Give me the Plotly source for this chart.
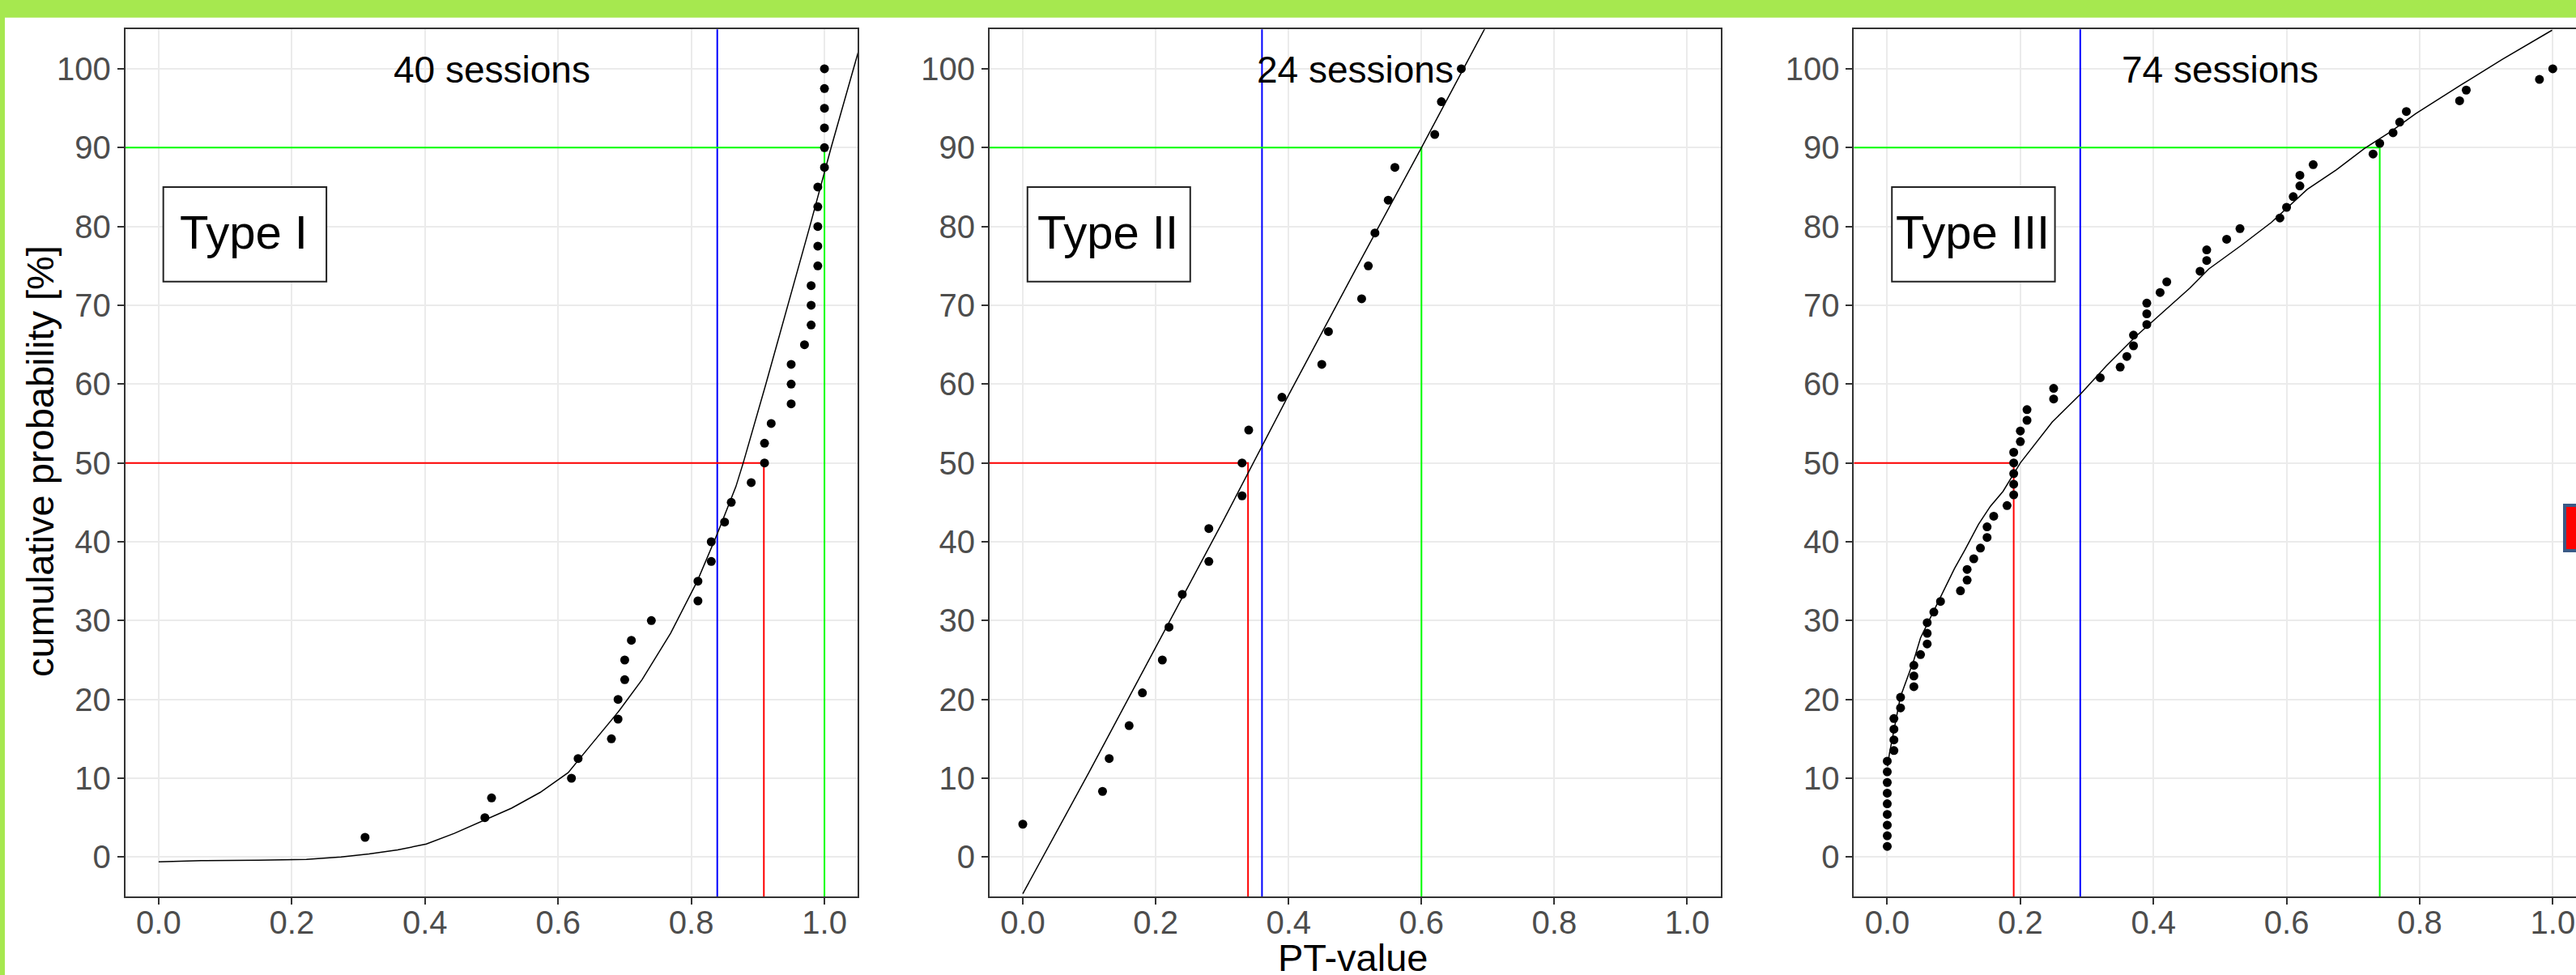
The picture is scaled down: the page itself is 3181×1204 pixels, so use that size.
import plotly.graph_objects as go

W, H = 3181, 1204

# ---------------- data ----------------
panel_labels = ["Type I", "Type II", "Type III"]
session_labels = ["40 sessions", "24 sessions", "74 sessions"]

t1_pt = [0.31, 0.49, 0.50, 0.62, 0.63, 0.68, 0.69, 0.69, 0.70, 0.70, 0.71, 0.74,
         0.81, 0.81, 0.83, 0.83, 0.85, 0.86, 0.89, 0.91, 0.91, 0.92, 0.95, 0.95,
         0.95, 0.97, 0.98, 0.98, 0.98, 0.99, 0.99, 0.99, 0.99, 0.99, 1.0, 1.0,
         1.0, 1.0, 1.0, 1.0]
t1_cum = [2.5, 5, 7.5, 10, 12.5, 15, 17.5, 20, 22.5, 25, 27.5, 30, 32.5, 35, 37.5,
          40, 42.5, 45, 47.5, 50, 52.5, 55, 57.5, 60, 62.5, 65, 67.5, 70, 72.5, 75,
          77.5, 80, 82.5, 85, 87.5, 90, 92.5, 95, 97.5, 100]

t2_pt = [0.0, 0.12, 0.13, 0.16, 0.18, 0.21, 0.22, 0.24, 0.28, 0.28, 0.33, 0.33,
         0.34, 0.39, 0.45, 0.46, 0.51, 0.52, 0.53, 0.55, 0.56, 0.62, 0.63, 0.66]
t2_cum = [4.17, 8.33, 12.5, 16.67, 20.83, 25.0, 29.17, 33.33, 37.5, 41.67, 45.83,
          50.0, 54.17, 58.33, 62.5, 66.67, 70.83, 75.0, 79.17, 83.33, 87.5, 91.67,
          95.83, 100.0]

t3_pt = [0.0, 0.0, 0.0, 0.0, 0.0, 0.0, 0.0, 0.0, 0.0, 0.01, 0.01, 0.01, 0.01,
         0.02, 0.02, 0.04, 0.04, 0.04, 0.05, 0.06, 0.06, 0.06, 0.07, 0.08, 0.11,
         0.12, 0.12, 0.13, 0.14, 0.15, 0.15, 0.16, 0.18, 0.19, 0.19, 0.19, 0.19,
         0.19, 0.20, 0.20, 0.21, 0.21, 0.25, 0.25, 0.32, 0.35, 0.36, 0.37, 0.37,
         0.39, 0.39, 0.39, 0.41, 0.42, 0.47, 0.48, 0.48, 0.51, 0.53, 0.59, 0.60,
         0.61, 0.62, 0.62, 0.64, 0.73, 0.74, 0.76, 0.77, 0.78, 0.86, 0.87, 0.98, 1.00]
t3_cum = [1.35, 2.70, 4.05, 5.41, 6.76, 8.11, 9.46, 10.81, 12.16, 13.51, 14.86,
          16.22, 17.57, 18.92, 20.27, 21.62, 22.97, 24.32, 25.68, 27.03, 28.38,
          29.73, 31.08, 32.43, 33.78, 35.14, 36.49, 37.84, 39.19, 40.54, 41.89,
          43.24, 44.59, 45.95, 47.30, 48.65, 50.00, 51.35, 52.70, 54.05, 55.41,
          56.76, 58.11, 59.46, 60.81, 62.16, 63.51, 64.86, 66.22, 67.57, 68.92,
          70.27, 71.62, 72.97, 74.32, 75.68, 77.03, 78.38, 79.73, 81.08, 82.43,
          83.78, 85.14, 86.49, 87.84, 89.19, 90.54, 91.89, 93.24, 94.59, 95.95,
          97.30, 98.65, 100.00]

# fitted curves
fit1_x = [0.0, 0.064, 0.15, 0.222, 0.274, 0.316, 0.359, 0.402, 0.444, 0.487, 0.53,
          0.573, 0.615, 0.65, 0.692, 0.726, 0.769, 0.809, 0.839, 0.867, 0.878,
          0.912, 0.945, 0.978, 1.01, 1.043, 1.052]
fit1_y = [-0.6, -0.45, -0.4, -0.3, 0.0, 0.4, 0.9, 1.65, 3.0, 4.6, 6.2, 8.2, 10.7,
          14.3, 18.6, 22.5, 28.4, 35.0, 41.0, 47.0, 50.0, 60.0, 70.0, 80.0, 90.0,
          100.0, 102.5]

fit2_x = [0.0, 0.1, 0.2, 0.3, 0.4, 0.5, 0.6, 0.696]
fit2_y = [-4.65, 10.8, 26.6, 42.4, 58.6, 74.4, 90.0, 105.2]

fit3_x = [0.0005, 0.0034, 0.0197, 0.040, 0.050, 0.081, 0.101, 0.117, 0.137, 0.155,
          0.174, 0.200, 0.248, 0.290, 0.329, 0.374, 0.410, 0.455, 0.483, 0.532,
          0.577, 0.631, 0.675, 0.717, 0.756, 0.794, 0.863, 0.924, 0.999]
fit3_y = [11.5, 13.2, 20.3, 25.0, 27.8, 33.2, 36.6, 39.0, 42.2, 44.5, 46.4, 50.0,
          55.2, 58.7, 62.3, 66.1, 68.8, 72.2, 74.6, 77.6, 80.5, 84.7, 87.2, 89.9,
          92.0, 94.3, 98.0, 101.2, 104.9]

# reference quantiles
q50 = [0.909, 0.339, 0.190]   # red
q90 = [1.000, 0.600, 0.740]   # green
mean_pt = [0.839, 0.360, 0.290]  # blue

x_ticks = [0.0, 0.2, 0.4, 0.6, 0.8, 1.0]
y_ticks = [0, 10, 20, 30, 40, 50, 60, 70, 80, 90, 100]

# ---------------- layout geometry ----------------
FONT = "Liberation Sans, Arial, sans-serif"
y_dom = [1 - 1107 / H, 1 - 36.3 / H]
x_doms = [[154.8 / W, 1059.2 / W], [1222.0 / W, 2124.5 / W], [2289.4 / W, 1.0]]
x_ranges = [[-0.05, 1.05], [-0.05, 1.05], [-0.05, 1.0349]]
y_range = [-5, 105]

fig = go.Figure()

pts = [(t1_pt, t1_cum), (t2_pt, t2_cum), (t3_pt, t3_cum)]
fits = [(fit1_x, fit1_y), (fit2_x, fit2_y), (fit3_x, fit3_y)]

for i in range(3):
    xa = "x" if i == 0 else f"x{i+1}"
    ya = "y" if i == 0 else f"y{i+1}"
    lo = x_ranges[i][0] - 0.1
    fig.add_trace(go.Scatter(x=[mean_pt[i], mean_pt[i]], y=[-10, 115], mode="lines",
                             line=dict(color="#0000ff", width=2), xaxis=xa, yaxis=ya,
                             hoverinfo="skip"))
    fig.add_trace(go.Scatter(x=[lo, q50[i], q50[i]], y=[50, 50, -10], mode="lines",
                             line=dict(color="#ff0000", width=2), xaxis=xa, yaxis=ya,
                             hoverinfo="skip"))
    fig.add_trace(go.Scatter(x=[lo, q90[i], q90[i]], y=[90, 90, -10], mode="lines",
                             line=dict(color="#00ff00", width=2), xaxis=xa, yaxis=ya,
                             hoverinfo="skip"))
    fig.add_trace(go.Scatter(x=fits[i][0], y=fits[i][1], mode="lines",
                             line=dict(color="black", width=1.5), xaxis=xa, yaxis=ya))
    fig.add_trace(go.Scatter(x=pts[i][0], y=pts[i][1], mode="markers",
                             marker=dict(color="black", size=11, line=dict(width=0)),
                             xaxis=xa, yaxis=ya))

axis_common = dict(showgrid=True, gridcolor="#ebebeb", gridwidth=2, zeroline=False,
                   showline=True, linecolor="#333333", linewidth=2,
                   ticks="outside", ticklen=8, tickwidth=2, tickcolor="#333333",
                   tickfont=dict(family=FONT, size=40, color="#4d4d4d"))

layout = dict(width=W, height=H, autosize=False, showlegend=False,
              margin=dict(l=0, r=0, t=0, b=0),
              paper_bgcolor="white", plot_bgcolor="white",
              font=dict(family=FONT))
for i in range(3):
    suf = "" if i == 0 else str(i + 1)
    xax = dict(axis_common, domain=x_doms[i], range=x_ranges[i], tickvals=x_ticks,
               tickformat=".1f", anchor="y" + suf, mirror=True,
               ticklabelstandoff=-12)
    yax = dict(axis_common, domain=y_dom, range=y_range, tickvals=y_ticks,
               anchor="x" + suf, mirror=(i < 2))
    if i == 2:
        xax["ticklabeloverflow"] = "allow"
    layout["xaxis" + suf] = xax
    layout["yaxis" + suf] = yax
fig.update_layout(**layout)

shapes = []
annotations = []
for i in range(3):
    suf = "" if i == 0 else str(i + 1)
    shapes.append(dict(type="rect", xref="x" + suf, yref="y" + suf,
                       x0=0.007, x1=0.252, y0=73, y1=85,
                       fillcolor="white", line=dict(color="#222222", width=2),
                       layer="above"))
    annotations.append(dict(xref="x" + suf, yref="y" + suf, x=0.128, y=79.3,
                            text=panel_labels[i], showarrow=False,
                            font=dict(family=FONT, size=58, color="black"),
                            xanchor="center", yanchor="middle"))
    annotations.append(dict(xref="x" + suf, yref="y" + suf, x=0.5, y=99.9,
                            text=session_labels[i], showarrow=False,
                            font=dict(family=FONT, size=46, color="black"),
                            xanchor="center", yanchor="middle"))

annotations.append(dict(xref="paper", yref="paper", x=49 / W, y=1 - 570 / H,
                        text="cumulative probability [%]", textangle=-90,
                        showarrow=False, xanchor="center", yanchor="middle",
                        font=dict(family=FONT, size=47, color="black")))
annotations.append(dict(xref="paper", yref="paper", x=1670 / W, y=1 - 1155 / H,
                        text="PT-value", showarrow=False, xanchor="center",
                        yanchor="top", borderpad=0,
                        font=dict(family=FONT, size=47, color="black")))

GREEN = "#a6e84f"
shapes.append(dict(type="rect", xref="paper", yref="paper", x0=-0.01, x1=1.01,
                   y0=1 - 21.7 / H, y1=1.01, fillcolor=GREEN, line=dict(width=0),
                   layer="above"))
shapes.append(dict(type="rect", xref="paper", yref="paper", x0=-0.01, x1=6 / W,
                   y0=-0.01, y1=1.01, fillcolor=GREEN, line=dict(width=0),
                   layer="above"))
shapes.append(dict(type="rect", xref="paper", yref="paper", x0=3167 / W, x1=1.02,
                   y0=1 - 680 / H, y1=1 - 624 / H, fillcolor="#ff0000",
                   line=dict(color="#3b5a86", width=4), layer="above"))

fig.update_layout(shapes=shapes, annotations=annotations)
fig.write_html("out.html", config={"displayModeBar": False},
               post_script="document.body.style.margin='0';"
                           "document.body.style.overflow='hidden';")
